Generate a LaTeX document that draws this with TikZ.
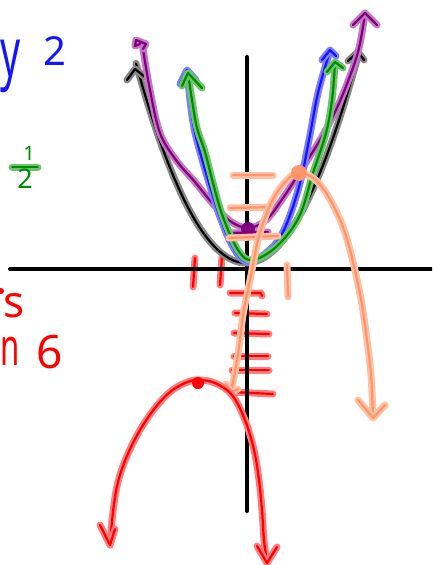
\documentclass[tikz,border=0pt]{standalone}
\usepackage{fontspec}
\setmainfont{Noto Sans}
\definecolor{bcore}{RGB}{20,20,255}
\definecolor{bhalo}{RGB}{125,125,255}
\definecolor{gcore}{RGB}{0,140,0}
\definecolor{ghalo}{RGB}{110,195,110}
\definecolor{pcore}{RGB}{128,0,128}
\definecolor{phalo}{RGB}{195,120,195}
\definecolor{kcore}{RGB}{0,0,0}
\definecolor{khalo}{RGB}{135,135,135}
\definecolor{rcore}{RGB}{255,0,0}
\definecolor{rhalo}{RGB}{255,125,125}
\definecolor{ocore}{RGB}{255,150,105}
\definecolor{ohalo}{RGB}{255,192,165}
\begin{document}
\begin{tikzpicture}[x=1pt,y=-1pt,
  glow/.style 2 args={preaction={draw=#2,line width=7pt,line cap=round,line join=round},
    draw=#1,line width=2.2pt,line cap=round,line join=round},
  bl/.style={glow={bcore}{bhalo}},
  gr/.style={glow={gcore}{ghalo}},
  pu/.style={glow={pcore}{phalo}},
  bk/.style={glow={kcore}{khalo}},
  rd/.style={glow={rcore}{rhalo}},
  orr/.style={glow={ocore}{ohalo}},
  axis/.style={draw=black,line width=4pt,line cap=round},
  lbl/.style={inner sep=0pt,outer sep=0pt}]
\useasboundingbox (0,0) rectangle (432,565);
\clip (0,0) rectangle (432,565);

% labels
\node[lbl,anchor=base west,text=bcore,font=\fontsize{68}{70}\selectfont] (ty) at (1,76) {\scalebox{0.58}[1]{y}};
\node[lbl,anchor=base west,text=bcore,font=\fontsize{40}{42}\selectfont] (t2) at (43,65) {2};
\node[lbl,anchor=base,text=gcore,font=\fontsize{20}{22}\selectfont] (th1) at (29,160) {1};
\draw[gr,line width=1.8pt,preaction={draw=ghalo,line width=6pt}] (12,167) -- (38,167);
\node[lbl,anchor=base,text=gcore,font=\fontsize{27}{29}\selectfont] (th2) at (25,188) {2};
\fill[rcore] (1,291) circle[radius=3pt];
\node[lbl,anchor=base west,text=rcore,font=\fontsize{44}{46}\selectfont] (ts) at (3,317) {s};
\node[lbl,anchor=base west,text=rcore,font=\fontsize{52}{54}\selectfont] (tn) at (1,365) {\scalebox{0.6}[1]{n}};
\node[lbl,anchor=base west,text=rcore,font=\fontsize{46}{48}\selectfont] (t6) at (36,368) {6};

% red ticks on negative y-axis
\draw[rd] (230,293) -- (261,293) -- (262,296);
\draw[rd] (235,313) -- (267,314);
\draw[rd] (234,333) -- (269,334);
\draw[rd] (234,356) -- (268,356);
\draw[rd] (232,370) -- (269,370);
\draw[rd] (232,392) -- (273,394);
% red marks on negative x-axis
\draw[rd] (195,258) -- (193,287);
\draw[rd] (222,257) -- (220,285);

% axes
\draw[axis] (10,269) -- (432,269);
\draw[axis] (247,57) -- (247,511);

% orange tick marks
\draw[orr] (233,175) -- (273,175);
\draw[orr] (230,208) -- (276,207);
\draw[orr] (287,265) -- (288,297);

% black parabola
\draw[bk] plot[domain=136:358,samples=60] (\x,{263-0.0165*(\x-246)^2});
\draw[bk] (348,61) -- (358,52) -- (364,60);
\draw[bk] (127,80) -- (135,69) -- (145,77);

% purple parabola
\draw[pu] plot[smooth,tension=0.6] coordinates {(143,49) (150,90) (160,133) (176,160) (195,182) (213,204) (230,221) (248,228) (266,220) (283,198) (303,167) (320,140) (336,110) (350,76) (359,48) (365,14)};
\draw[pu] (353,25) -- (365,13) -- (377,25);
\draw[pu] (143,49) -- (146,44) -- (136,40) -- (135,46) -- (140,44);
\draw[pu] (229,233) -- (268,232);
\fill[pcore] (248,229) circle[radius=7pt];

% blue parabola
\draw[bl] plot[smooth,tension=0.6] coordinates {(187,71) (190,100) (194,128) (200,152) (209,183) (220,217) (233,247) (247,262) (266,253) (283,232) (299,187) (309,140) (318,93) (330,51)};
\draw[bl] (180,84) -- (187,70) -- (196,80);
\draw[bl] (322,60) -- (330,50) -- (336,56);

% green parabola
\draw[gr] plot[smooth,tension=0.6] coordinates {(188,73) (192,100) (197,128) (205,152) (213,183) (223,217) (238,250) (252,260) (276,247) (299,217) (313,173) (326,133) (332,100) (335,63)};
\draw[gr] (182,86) -- (188,73) -- (202,88);
\draw[gr] (327,72) -- (335,62) -- (343,68);

% orange downward parabola
\draw[orr] (229,238) -- (278,236);
\draw[orr] plot[smooth,tension=0.6] coordinates {(231,392) (235,372) (239,347) (243,315) (248,290) (253,265) (258,240) (266,215) (276,194) (288,179) (298,173) (310,176) (322,187) (333,205) (343,227) (350,250) (356,275) (362,305) (367,340) (371,375) (373,416)};
\draw[orr] (358,400) -- (373,418) -- (385,405);
\draw[orr] (226,384) -- (231,393) -- (238,389);
\fill[ocore] (299,173) circle[radius=8pt];

% red downward parabola
\draw[rd] plot[smooth,tension=0.6] coordinates {(110,545) (113,512) (118,482) (127,456) (140,430) (155,408) (170,392) (185,383) (198,380) (215,383) (232,395) (245,420) (254,450) (259,480) (262,510) (264,540) (267,561)};
\draw[rd] (100,525) -- (110,545) -- (115,529);
\draw[rd] (257,546) -- (267,563) -- (277,547);
\fill[rcore] (198,383) circle[radius=6pt];
\end{tikzpicture}
\end{document}
